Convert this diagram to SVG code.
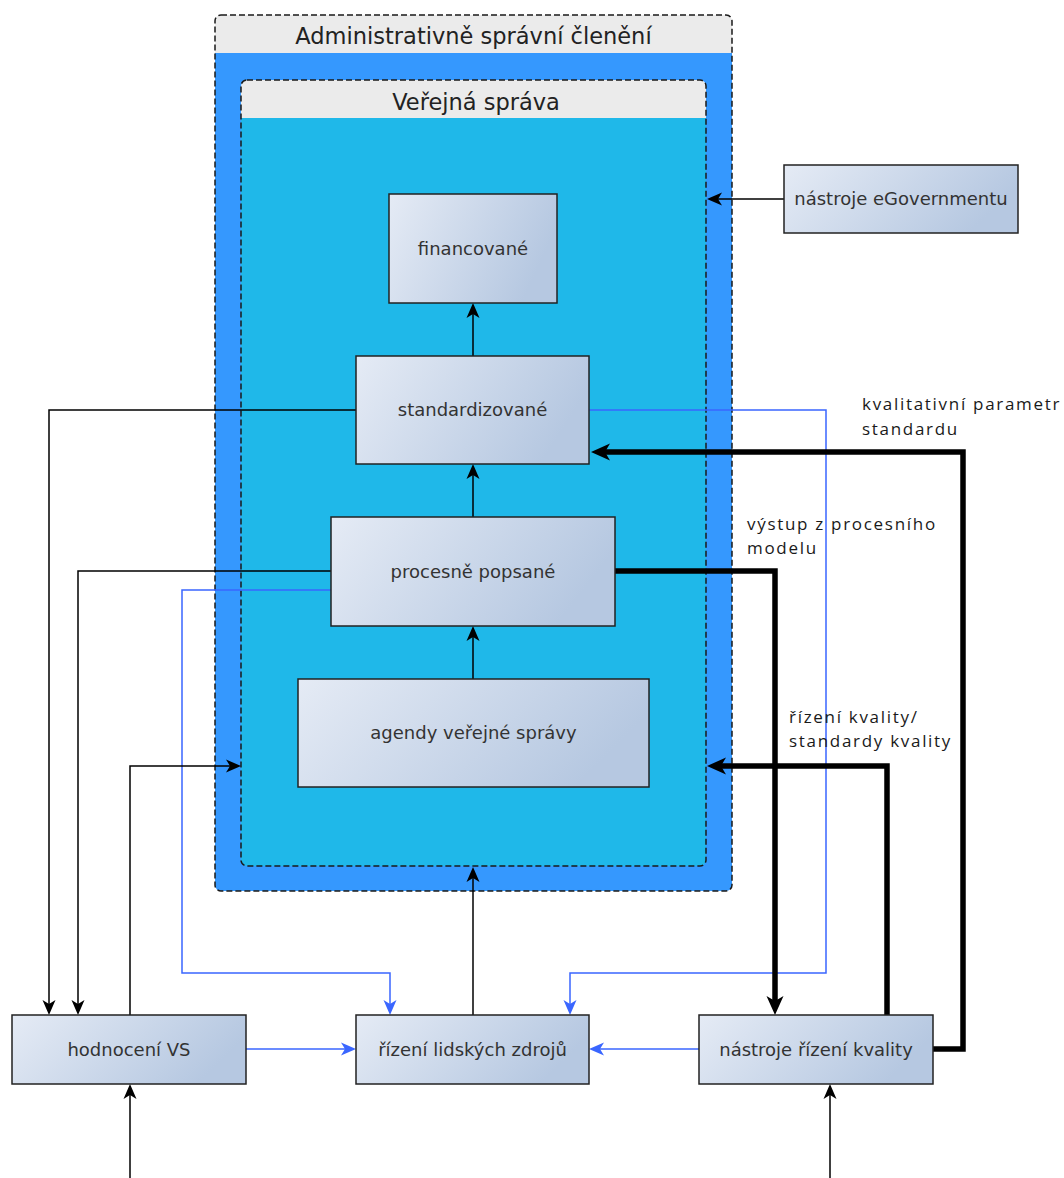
<svg xmlns="http://www.w3.org/2000/svg" width="1064" height="1178" viewBox="0 0 1064 1178">
<defs>
<linearGradient id="ng" x1="0" y1="0" x2="1" y2="0.3">
<stop offset="0" stop-color="#e5ebf5"/>
<stop offset="1" stop-color="#b6c8e1"/>
</linearGradient>
<marker id="ab" markerUnits="userSpaceOnUse" markerWidth="15" markerHeight="13" refX="4" refY="6.5" orient="auto" overflow="visible">
<path d="M0,0 L15,6.5 L0,13 L4,6.5 Z" fill="#000"/>
</marker>
<marker id="au" markerUnits="userSpaceOnUse" markerWidth="15" markerHeight="13" refX="4" refY="6.5" orient="auto" overflow="visible">
<path d="M0,0 L15,6.5 L0,13 L4,6.5 Z" fill="#3a66ff"/>
</marker>
<marker id="at" markerUnits="userSpaceOnUse" markerWidth="19" markerHeight="17" refX="5" refY="8.5" orient="auto" overflow="visible">
<path d="M0,0 L19,8.5 L0,17 L5,8.5 Z" fill="#000"/>
</marker>
</defs>
<style>
.node rect{fill:url(#ng);stroke:#222;stroke-width:1.5}
.node text{font-family:"DejaVu Sans",sans-serif;font-size:18px;fill:#333;text-anchor:middle}
.hdr{font-family:"DejaVu Sans",sans-serif;font-size:22.5px;fill:#222;text-anchor:middle}
.lbl{font-family:"Open Sans",sans-serif;font-size:17px;letter-spacing:1.7px;fill:#1a1a1a}
.c{fill:none;stroke:#000;stroke-width:1.5}
.cb{fill:none;stroke:#3a66ff;stroke-width:1.5}
.ct{fill:none;stroke:#000;stroke-width:5.5}
.dash{fill:none;stroke:#1a1a1a;stroke-width:1.5;stroke-dasharray:6 3}
</style>
<rect width="1064" height="1178" fill="#fff"/>
<g id="admin">
<path d="M221,15 H726 A6,6 0 0 1 732,21 V53 H215 V21 A6,6 0 0 1 221,15 Z" fill="#ebebeb"/>
<path d="M215,53 H732 V885 A6,6 0 0 1 726,891 H221 A6,6 0 0 1 215,885 Z" fill="#3598fe"/>
<rect x="215" y="15" width="517" height="876" rx="6" class="dash"/>
<text x="473.5" y="44" class="hdr">Administrativně správní členění</text>
</g>
<g id="verejna">
<path d="M247,80 H700 A6,6 0 0 1 706,86 V118 H241 V86 A6,6 0 0 1 247,80 Z" fill="#ebebeb"/>
<path d="M241,118 H706 V860 A6,6 0 0 1 700,866 H247 A6,6 0 0 1 241,860 Z" fill="#1fb8e9"/>
<rect x="241" y="80" width="465" height="786" rx="6" class="dash"/>
<text x="476" y="110" class="hdr">Veřejná správa</text>
</g>
<g id="connectors">
<path class="c" d="M473,679 V637" marker-end="url(#ab)"/>
<path class="c" d="M473,517 V475" marker-end="url(#ab)"/>
<path class="c" d="M473,356 V314" marker-end="url(#ab)"/>
<path class="c" d="M784,199 H718" marker-end="url(#ab)"/>
<path class="c" d="M356,410 H49 V1004" marker-end="url(#ab)"/>
<path class="c" d="M331,571 H78 V1004" marker-end="url(#ab)"/>
<path class="cb" d="M331,590 H182 V973 H390 V1004" marker-end="url(#au)"/>
<path class="cb" d="M589,410 H826 V973 H570 V1004" marker-end="url(#au)"/>
<path class="c" d="M130,1015 V766 H230" marker-end="url(#ab)"/>
<path class="c" d="M473,1015 V878" marker-end="url(#ab)"/>
<path class="cb" d="M246,1049 H345" marker-end="url(#au)"/>
<path class="cb" d="M699,1049 H600" marker-end="url(#au)"/>
<path class="c" d="M130,1178 V1095" marker-end="url(#ab)"/>
<path class="c" d="M830,1178 V1095" marker-end="url(#ab)"/>
<path class="ct" d="M615,571 H775 V1001" marker-end="url(#at)"/>
<path class="ct" d="M887,1015 V766 H721" marker-end="url(#at)"/>
<path class="ct" d="M933,1049 H963 V452 H605" marker-end="url(#at)"/>
<text class="lbl" x="862" y="410">kvalitativní parametr</text>
<text class="lbl" x="862" y="435">standardu</text>
<text class="lbl" x="747" y="530">výstup z procesního</text>
<text class="lbl" x="747" y="554">modelu</text>
<text class="lbl" x="789" y="723">řízení kvality/</text>
<text class="lbl" x="789" y="747">standardy kvality</text>
</g>
<g id="financovane" class="node"><rect x="389" y="194" width="168" height="109"/><text x="473" y="255">financované</text></g>
<g id="standardizovane" class="node"><rect x="356" y="356" width="233" height="108"/><text x="472.5" y="416">standardizované</text></g>
<g id="procesne" class="node"><rect x="331" y="517" width="284" height="109"/><text x="473" y="578">procesně popsané</text></g>
<g id="agendy" class="node"><rect x="298" y="679" width="351" height="108"/><text x="473.5" y="739">agendy veřejné správy</text></g>
<g id="egov" class="node"><rect x="784" y="165" width="234" height="68"/><text x="901" y="205">nástroje eGovernmentu</text></g>
<g id="hodnoceni" class="node"><rect x="12" y="1015" width="234" height="69"/><text x="129" y="1056">hodnocení VS</text></g>
<g id="rizeni" class="node"><rect x="356" y="1015" width="233" height="69"/><text x="472.5" y="1056">řízení lidských zdrojů</text></g>
<g id="kvalita" class="node"><rect x="699" y="1015" width="234" height="69"/><text x="816" y="1056">nástroje řízení kvality</text></g>
</svg>
